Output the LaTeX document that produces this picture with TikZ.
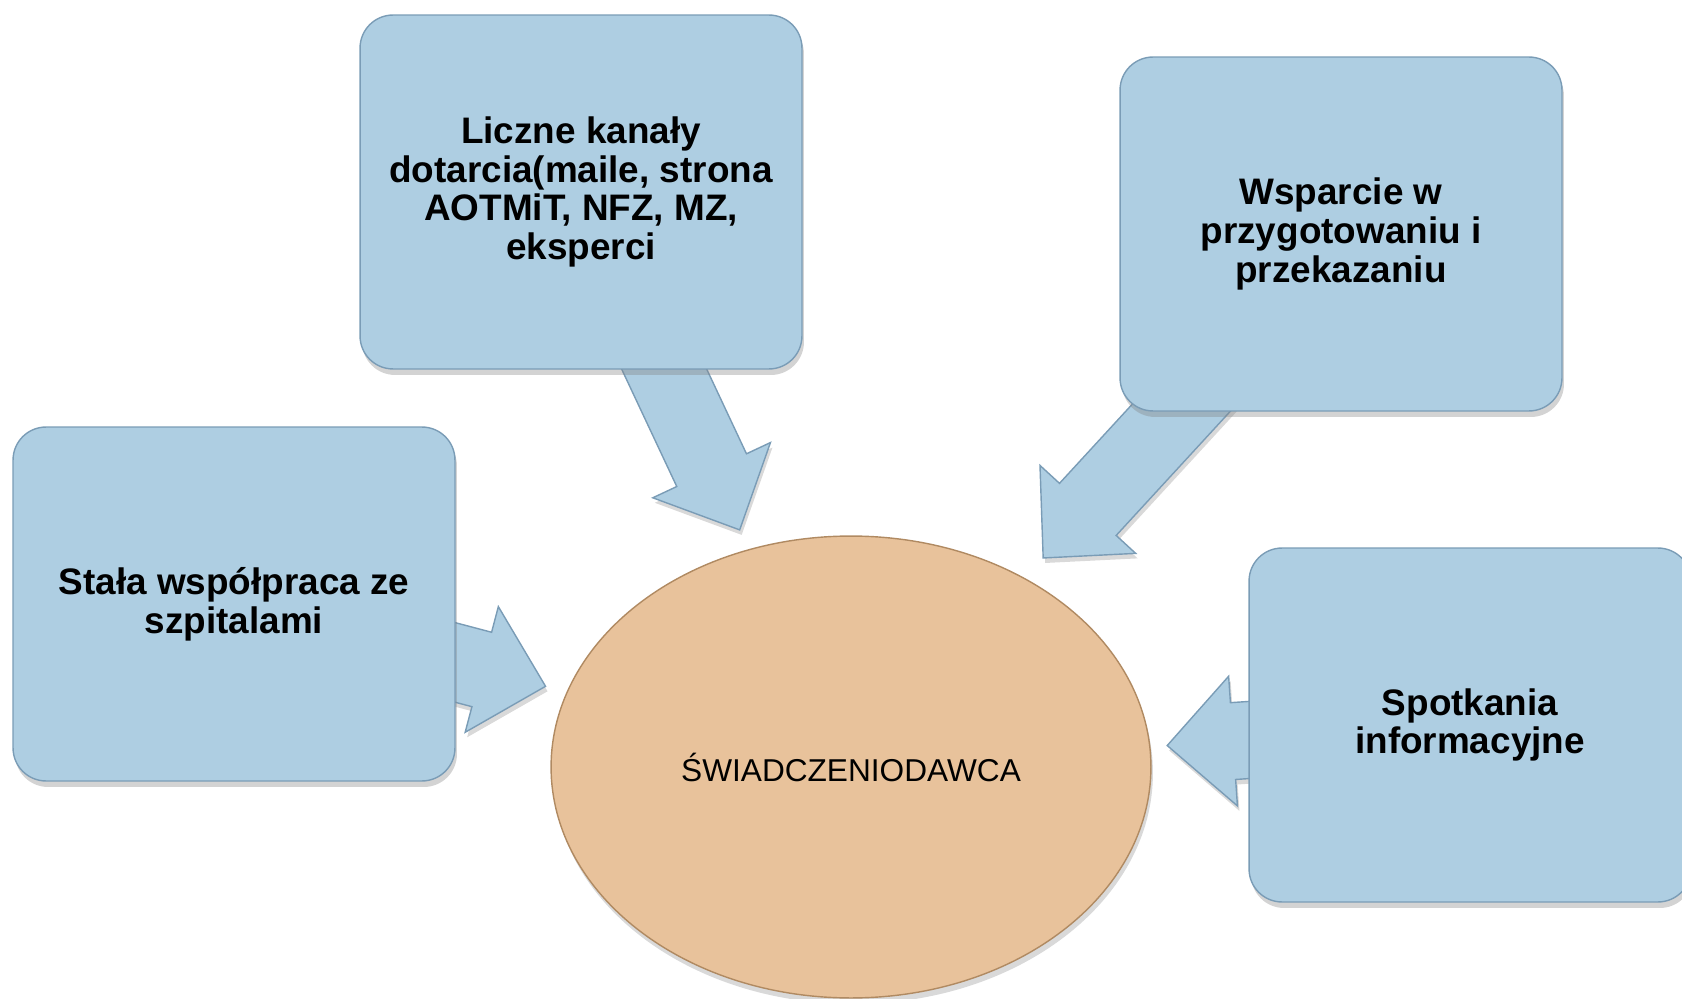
\documentclass[tikz,border=0pt]{standalone}
\usepackage{fontspec}
\setmainfont{Liberation Sans}
\usetikzlibrary{calc,shapes.geometric,shadows,backgrounds}
\usepackage{xcolor}

\definecolor{boxblue}{RGB}{174,206,226}
\definecolor{boxedge}{RGB}{122,156,182}
\definecolor{hubfill}{RGB}{232,194,155}
\definecolor{hubedge}{RGB}{176,138,98}

\begin{document}
\begin{tikzpicture}[
				x=0.02cm,y=-0.02cm,
				info/.style={draw=boxedge,line width=0.8pt,fill=boxblue,rectangle,rounded corners=0.66cm,minimum width=8.84cm,minimum height=7.08cm,align=center,font=\fontsize{21}{22}\selectfont\bfseries,drop shadow={shadow xshift=0.04cm,shadow yshift=-0.12cm,opacity=0.35}},
				hub/.style={draw=hubedge,line width=0.8pt,fill=hubfill,ellipse,inner sep=0pt,minimum width=12cm,minimum height=9.24cm,font=\fontsize{18}{20}\selectfont,drop shadow={shadow xshift=0.04cm,shadow yshift=-0.12cm,opacity=0.3}},
				blockarrow/.style={fill=boxblue,draw=boxedge,line width=0.8pt,line join=miter,drop shadow={shadow xshift=0.04cm,shadow yshift=-0.1cm,opacity=0.3},
					to path={($(\tikztotarget)!1.32cm!(\tikztostart)$) coordinate (hb)
						($(\tikztostart)!0.77cm!90:(\tikztotarget)$) -- ($(hb)!0.77cm!90:(\tikztotarget)$) -- ($(hb)!1.3cm!90:(\tikztotarget)$) -- (\tikztotarget)
						-- ($(hb)!1.3cm!-90:(\tikztotarget)$) -- ($(hb)!0.77cm!-90:(\tikztotarget)$) -- ($(\tikztostart)!0.77cm!-90:(\tikztotarget)$) -- cycle}}
				]
				\useasboundingbox (0,0) rectangle (1682,999);
				
				% Srodek
				\node[hub] (provider) at (851,767) {ŚWIADCZENIODAWCA};
				
				% Kanaly wokol
				\node[info] (channels) at (581,192) {Liczne kanały\\dotarcia(maile, strona\\AOTMiT, NFZ, MZ,\\eksperci};
				\node[info] (support) at (1341,234) {Wsparcie w\\przygotowaniu i\\przekazaniu};
				\node[info] (hospitals) at (234,604) {Stała współpraca ze\\szpitalami};
				\node[info] (meetings) at (1470,725) {Spotkania\\informacyjne};
				
				% Groty strzalek
				\coordinate (channelsTip) at ($(provider)!5.24cm!(channels)$);
				\coordinate (supportTip) at ($(provider)!5.68cm!(support)$);
				\coordinate (hospitalsTip) at ($(provider)!6.32cm!(hospitals)$);
				\coordinate (meetingsTip) at ($(provider)!6.34cm!(meetings)$);
				
				% Strzalki pod ramkami
				\begin{scope}[on background layer]
					\path[blockarrow] (channels) to (channelsTip);
					\path[blockarrow] (support) to (supportTip);
					\path[blockarrow] (hospitals) to (hospitalsTip);
					\path[blockarrow] (meetings) to (meetingsTip);
				\end{scope}
				
			\end{tikzpicture}
\end{document}
